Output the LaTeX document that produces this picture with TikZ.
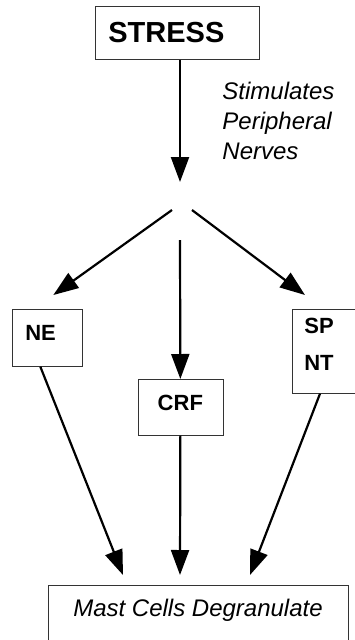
\documentclass[tikz,border=0pt]{standalone}
\usepackage{fontspec}
\setmainfont{Liberation Sans}
\usetikzlibrary{arrows.meta,positioning}

\tikzset{
  box/.style={draw=black!80,line width=0.7pt,rectangle,align=left,text height=16pt,
    font=\bfseries\fontsize{22}{37}\selectfont},
  flow/.style={-{Triangle[length=25pt,width=18pt]},line width=2.2pt},
  note/.style={font=\itshape\fontsize{24}{30}\selectfont,align=left}
}

\begin{document}
\begin{tikzpicture}[x=1pt,y=-1pt]
\useasboundingbox (0,0) rectangle (355,640);
\clip (0,0) rectangle (355,640);

% boxes, placed by their top left corners
\node[box,anchor=north west,font=\bfseries\fontsize{29}{29}\selectfont,text height=21pt,text depth=2pt,
      text width=138pt,inner xsep=13pt,inner ysep=15pt] (stress) at (95,6) {STRESS};
\node[box,anchor=north west,text width=44pt,inner xsep=13pt,inner ysep=15pt,text depth=11pt] (ne) at (12,309) {NE};
\node[box,anchor=north west,text width=59pt,inner xsep=13pt,inner ysep=15pt,text depth=10pt,align=center] (crf) at (137.5,379) {CRF};
\node[box,anchor=north west,text width=60pt,inner xsep=12pt,inner ysep=8pt,text depth=52pt] (spnt) at (292,309) {SP\\NT};
\node[box,anchor=north,font=\itshape\fontsize{24}{24}\selectfont,minimum width=300pt,align=center,
      text height=25.6pt,text depth=60pt,inner ysep=6pt] (mast) at (198,585) {Mast Cells Degranulate};

% where the stimulus splits
\coordinate (forkC) at (180,182);
\coordinate (forkL) at (172,210);
\coordinate (forkR) at (192,210);
\coordinate (forkM) at (180,240);

\draw[flow] (stress.south -| forkC) -- node[note,anchor=west,xshift=38pt] (nerves) {Stimulates\\Peripheral\\Nerves} (forkC);
\draw[flow] (forkL) -- ([xshift=6pt,yshift=14pt]ne.north);
\draw[flow] (forkM) -- (crf.north);
\draw[flow] (forkR) -- ([xshift=13pt,yshift=14pt]spnt.north west);

% everything ends at the mast cells
\draw[flow] ([xshift=-7pt]ne.south) -- ([xshift=-75pt,yshift=10pt]mast.north);
\draw[flow] (crf.south) -- ([xshift=-18pt,yshift=10pt]mast.north);
\draw[flow] ([xshift=28pt]spnt.south west) -- ([xshift=52pt,yshift=10pt]mast.north);
\end{tikzpicture}
\end{document}
